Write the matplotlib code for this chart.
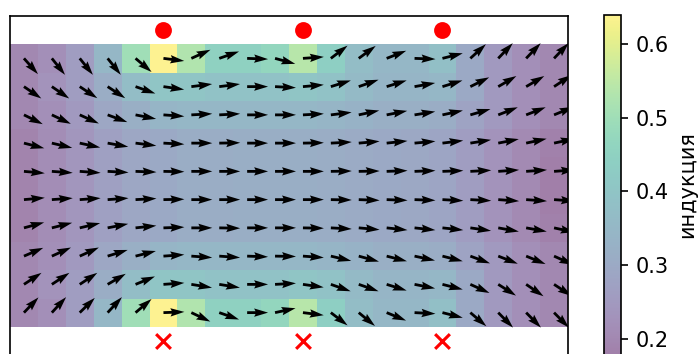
import numpy as np
import matplotlib
matplotlib.use("Agg")
import matplotlib.pyplot as plt

# grid of field samples, 20 columns x 10 rows, rows listed top to bottom
n_cols = 20
n_rows = 10

# |B| per cell
induction = [
    [0.20, 0.22, 0.26, 0.35, 0.50, 0.64, 0.53, 0.45, 0.45, 0.47, 0.54, 0.44, 0.37, 0.35, 0.35, 0.38, 0.30, 0.25, 0.22, 0.20],
    [0.20, 0.23, 0.26, 0.31, 0.37, 0.40, 0.40, 0.39, 0.39, 0.39, 0.40, 0.39, 0.36, 0.34, 0.34, 0.35, 0.30, 0.25, 0.22, 0.20],
    [0.20, 0.22, 0.25, 0.29, 0.32, 0.34, 0.35, 0.35, 0.35, 0.35, 0.35, 0.34, 0.33, 0.32, 0.32, 0.31, 0.28, 0.25, 0.22, 0.20],
    [0.19, 0.215, 0.24, 0.27, 0.29, 0.30, 0.31, 0.31, 0.315, 0.315, 0.315, 0.31, 0.305, 0.30, 0.295, 0.285, 0.26, 0.23, 0.205, 0.185],
    [0.19, 0.215, 0.24, 0.27, 0.29, 0.30, 0.31, 0.31, 0.315, 0.315, 0.315, 0.31, 0.305, 0.30, 0.295, 0.285, 0.26, 0.23, 0.205, 0.178],
    [0.19, 0.215, 0.24, 0.27, 0.29, 0.30, 0.31, 0.31, 0.315, 0.315, 0.315, 0.31, 0.305, 0.30, 0.295, 0.285, 0.26, 0.23, 0.205, 0.178],
    [0.19, 0.215, 0.24, 0.27, 0.29, 0.30, 0.31, 0.31, 0.315, 0.315, 0.315, 0.31, 0.305, 0.30, 0.295, 0.285, 0.26, 0.23, 0.205, 0.185],
    [0.20, 0.22, 0.25, 0.29, 0.32, 0.34, 0.35, 0.35, 0.35, 0.35, 0.35, 0.34, 0.33, 0.32, 0.32, 0.31, 0.28, 0.25, 0.22, 0.20],
    [0.20, 0.23, 0.26, 0.31, 0.37, 0.40, 0.40, 0.39, 0.39, 0.39, 0.40, 0.39, 0.36, 0.34, 0.34, 0.35, 0.30, 0.25, 0.22, 0.20],
    [0.20, 0.22, 0.26, 0.35, 0.50, 0.64, 0.53, 0.45, 0.45, 0.47, 0.54, 0.44, 0.37, 0.35, 0.35, 0.38, 0.30, 0.25, 0.22, 0.20],
]

# field direction per cell, degrees counter-clockwise from +x
direction = [
    [-48, -51, -51, -51, -40, -7, 24, 19, -2, -15, 4, 37, 36, 21, -2, 14, 42, 46, 46, 46],
    [-34, -34, -33, -33, -19, -8, 7, 7, 0, -3, 5, 17, 19, 17, 10, 17, 26, 30, 30, 33],
    [-26, -25, -24, -20, -11, -4, 3, 3, 0, 0, 3, 7, 12, 11, 9, 12, 16, 21, 21, 22],
    [-14, -13, -12, -10, -7, -3, 0, 1, 0, 0, 1, 3, 5, 6, 5, 7, 9, 11, 12, 12],
    [-5, -4, -4, -3, -2, -1, 0, 0, 0, 0, 0, 1, 1, 2, 2, 2, 3, 4, 4, 4],
    [5, 4, 4, 4, 3, 1, 0, 0, 0, 0, 0, -1, -2, -2, -2, -3, -3, -4, -4, -4],
    [15, 14, 13, 11, 6, 2, 0, -1, 0, 0, -1, -3, -5, -6, -6, -6, -8, -10, -10, -12],
    [23, 24, 24, 17, 14, 4, -4, -4, -2, -1, -4, -13, -15, -14, -12, -14, -20, -21, -22, -24],
    [33, 33, 33, 30, 22, 4, -9, -9, 0, 3, -8, -19, -19, -17, -11, -14, -24, -32, -34, -33],
    [46, 47, 44, 47, 40, 2, -25, -19, 0, 12, -7, -37, -39, -22, -3, -14, -40, -45, -45, -45],
]

# wire positions: current out of the page above, into the page below
wire_cols = [5, 10, 15]
wire_top_row = 10
wire_bottom_row = -1

B = np.array(induction)[::-1]
ang = np.deg2rad(np.array(direction)[::-1])
x = np.arange(n_cols)
y = np.arange(n_rows)
X, Y = np.meshgrid(x, y)
U = np.cos(ang)
V = np.sin(ang)

fig = plt.figure(figsize=(698 / 150, 354 / 150), dpi=150)
ax = fig.add_axes([10 / 698, -1 / 354, 558 / 698, 339 / 354])
cax = fig.add_axes([604 / 698, -1 / 354, 16.7 / 698, 340.3 / 354])

mesh = ax.pcolormesh(x, y, B, cmap="viridis", shading="nearest", alpha=0.5)
ax.quiver(X, Y, U, V, angles="xy", scale_units="xy", scale=1 / 0.75, width=0.005)

ax.scatter(wire_cols, [wire_top_row] * len(wire_cols), c="red", marker="o", s=50)
ax.scatter(wire_cols, [wire_bottom_row] * len(wire_cols), c="red", marker="x", s=50)

ax.set_xlim(-0.5, n_cols - 0.5)
ax.set_ylim(-1.5, n_rows + 0.5)
ax.set_xticks([])
ax.set_yticks([])

cb = fig.colorbar(mesh, cax=cax)
cb.set_label("индукция")

fig.savefig("out.png", dpi=150)
